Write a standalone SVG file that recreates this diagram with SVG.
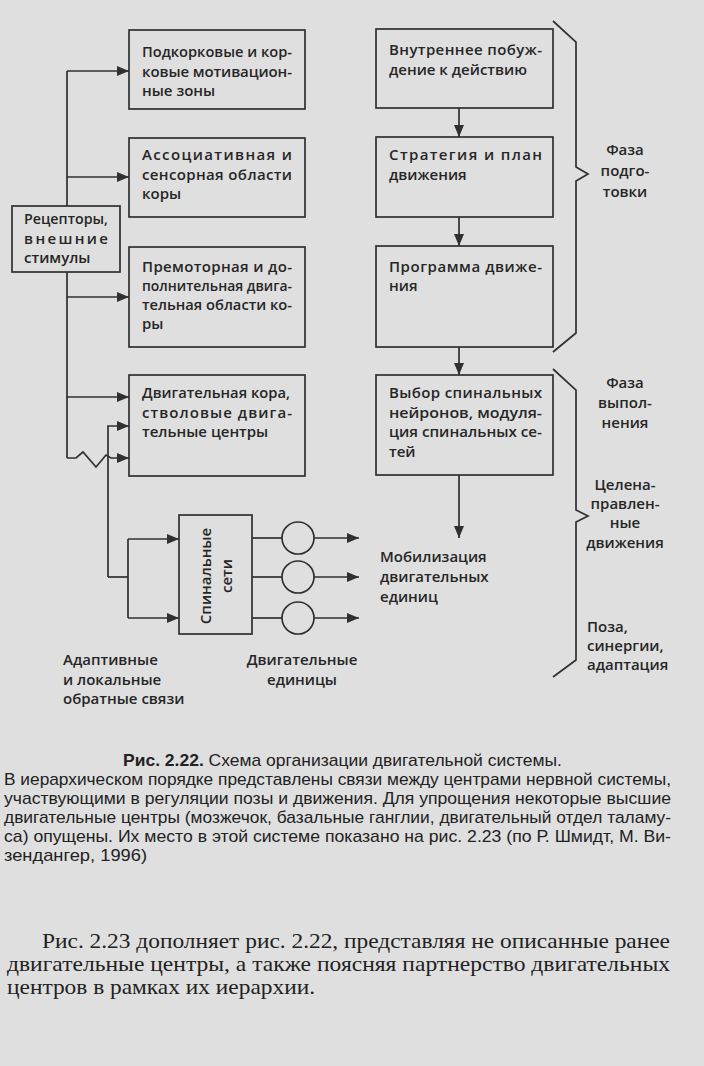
<svg xmlns="http://www.w3.org/2000/svg" width="704" height="1066" viewBox="0 0 704 1066">
<style>
.bx{fill:#dfdfdf;stroke:#303030;stroke-width:1.7}
.ln{fill:none;stroke:#303030;stroke-width:1.7}
.t{font-family:"Open Sans","Liberation Sans",sans-serif;font-size:15px;font-weight:600;fill:#262626}
.tc{font-family:"Open Sans","Liberation Sans",sans-serif;font-size:15px;font-weight:600;fill:#262626;text-anchor:middle}
.cap{font-family:"Liberation Sans",Arial,sans-serif;font-size:17px;fill:#222222}
.ser{font-family:"Liberation Serif","Times New Roman",serif;font-size:21px;fill:#222222}
</style>
<defs>
<marker id="ah" viewBox="0 0 12 10" refX="12" refY="5" markerWidth="12" markerHeight="10" markerUnits="userSpaceOnUse" orient="auto">
<path d="M0,0 L12,5 L0,10 z" fill="#303030"/>
</marker>
</defs>
<rect x="0" y="0" width="704" height="1066" fill="#dfdfdf"/>

<g id="connectors">
<path class="ln" d="M67,71 V458"/>
<path class="ln" d="M67,71 H129" marker-end="url(#ah)"/>
<path class="ln" d="M67,177 H129" marker-end="url(#ah)"/>
<path class="ln" d="M67,297 H129" marker-end="url(#ah)"/>
<path class="ln" d="M67,397 H129" marker-end="url(#ah)"/>
<path class="ln" d="M67,458 H76 L83,452 L96,467 L106,455 L111,458 H129" marker-end="url(#ah)"/>
<path class="ln" d="M108,577 V426 H129" marker-end="url(#ah)"/>
<path class="ln" d="M108,577 H128"/>
<path class="ln" d="M128,539 V618"/>
<path class="ln" d="M128,539 H179" marker-end="url(#ah)"/>
<path class="ln" d="M128,618 H179" marker-end="url(#ah)"/>
<path class="ln" d="M252,538 H282"/>
<path class="ln" d="M252,577 H282"/>
<path class="ln" d="M252,618 H282"/>
<path class="ln" d="M314,538 H359" marker-end="url(#ah)"/>
<path class="ln" d="M314,577 H359" marker-end="url(#ah)"/>
<path class="ln" d="M314,618 H359" marker-end="url(#ah)"/>
<path class="ln" d="M459,108 V137" marker-end="url(#ah)"/>
<path class="ln" d="M459,217 V246" marker-end="url(#ah)"/>
<path class="ln" d="M459,347 V375" marker-end="url(#ah)"/>
<path class="ln" d="M459,475 V538" marker-end="url(#ah)"/>
</g>

<g id="receptors">
<rect class="bx" x="12" y="206" width="108" height="66"/>
<text class="t" x="24" y="224" textLength="84" lengthAdjust="spacingAndGlyphs">Рецепторы,</text>
<text class="t" x="24" y="244" textLength="84" lengthAdjust="spacing">внешние</text>
<text class="t" x="24" y="263">стимулы</text>
</g>

<g id="motivation">
<rect class="bx" x="129" y="30" width="176" height="79"/>
<text class="t" x="142" y="57" textLength="150" lengthAdjust="spacingAndGlyphs">Подкорковые и кор-</text>
<text class="t" x="142" y="77" textLength="150" lengthAdjust="spacing">ковые мотивацион-</text>
<text class="t" x="142" y="96">ные зоны</text>
</g>

<g id="associative">
<rect class="bx" x="129" y="138" width="176" height="79"/>
<text class="t" x="142" y="160" textLength="150" lengthAdjust="spacing">Ассоциативная и</text>
<text class="t" x="142" y="180" textLength="150" lengthAdjust="spacing">сенсорная области</text>
<text class="t" x="142" y="199">коры</text>
</g>

<g id="premotor">
<rect class="bx" x="129" y="247" width="176" height="100"/>
<text class="t" x="142" y="272" textLength="150" lengthAdjust="spacing">Премоторная и до-</text>
<text class="t" x="142" y="291" textLength="150" lengthAdjust="spacingAndGlyphs">полнительная двига-</text>
<text class="t" x="142" y="310" textLength="150" lengthAdjust="spacingAndGlyphs">тельная области ко-</text>
<text class="t" x="142" y="329">ры</text>
</g>

<g id="motor-cortex">
<rect class="bx" x="129" y="375" width="176" height="101"/>
<text class="t" x="142" y="398" textLength="148" lengthAdjust="spacingAndGlyphs">Двигательная кора,</text>
<text class="t" x="142" y="418" textLength="150" lengthAdjust="spacing">стволовые двига-</text>
<text class="t" x="142" y="437">тельные центры</text>
</g>

<g id="spinal-nets">
<rect class="bx" x="179" y="515" width="73" height="119"/>
<text class="tc" transform="translate(211,576) rotate(-90)">Спинальные</text>
<text class="tc" transform="translate(232,576) rotate(-90)">сети</text>
</g>

<g id="motor-units">
<circle class="bx" cx="298" cy="538" r="16"/>
<circle class="bx" cx="298" cy="577" r="16"/>
<circle class="bx" cx="298" cy="618" r="16"/>
</g>

<g id="drive">
<rect class="bx" x="376" y="29" width="177" height="79"/>
<text class="t" x="389" y="55" textLength="153" lengthAdjust="spacing">Внутреннее побуж-</text>
<text class="t" x="389" y="75">дение к действию</text>
</g>

<g id="strategy">
<rect class="bx" x="376" y="137" width="177" height="80"/>
<text class="t" x="389" y="160" textLength="153" lengthAdjust="spacing">Стратегия и план</text>
<text class="t" x="389" y="180">движения</text>
</g>

<g id="program">
<rect class="bx" x="376" y="246" width="177" height="101"/>
<text class="t" x="389" y="272" textLength="153" lengthAdjust="spacing">Программа движе-</text>
<text class="t" x="389" y="291">ния</text>
</g>

<g id="selection">
<rect class="bx" x="376" y="375" width="177" height="100"/>
<text class="t" x="389" y="398" textLength="153" lengthAdjust="spacing">Выбор спинальных</text>
<text class="t" x="389" y="418" textLength="153" lengthAdjust="spacingAndGlyphs">нейронов, модуля-</text>
<text class="t" x="389" y="437" textLength="153" lengthAdjust="spacingAndGlyphs">ция спинальных се-</text>
<text class="t" x="389" y="457">тей</text>
</g>

<g id="mobilization">
<text class="t" x="380" y="562">Мобилизация</text>
<text class="t" x="380" y="582">двигательных</text>
<text class="t" x="380" y="602">единиц</text>
</g>

<g id="braces">
<polyline class="ln" points="553,21 576,42 576,167 588,174 576,181 576,333 553,352"/>
<polyline class="ln" points="553,369 576,390 576,510 588,516 576,522 576,660 553,677"/>
</g>

<g id="phase-labels">
<text class="tc" x="625" y="155">Фаза</text>
<text class="tc" x="625" y="176">подго-</text>
<text class="tc" x="625" y="197">товки</text>
<text class="tc" x="625" y="388">Фаза</text>
<text class="tc" x="625" y="408">выпол-</text>
<text class="tc" x="625" y="428">нения</text>
<text class="tc" x="625" y="490">Целена-</text>
<text class="tc" x="625" y="509">правлен-</text>
<text class="tc" x="625" y="528">ные</text>
<text class="tc" x="625" y="548">движения</text>
<text class="t" x="587" y="632">Поза,</text>
<text class="t" x="587" y="651">синергии,</text>
<text class="t" x="587" y="670">адаптация</text>
</g>

<g id="bottom-labels">
<text class="t" x="63" y="665">Адаптивные</text>
<text class="t" x="63" y="685">и локальные</text>
<text class="t" x="63" y="704">обратные связи</text>
<text class="tc" x="302" y="665">Двигательные</text>
<text class="tc" x="302" y="685">единицы</text>
</g>

<g id="caption">
<text class="cap" x="123" y="766" textLength="439" lengthAdjust="spacingAndGlyphs"><tspan font-weight="bold">Рис. 2.22.</tspan> Схема организации двигательной системы.</text>
<text class="cap" x="4" y="785" textLength="667" lengthAdjust="spacingAndGlyphs">В иерархическом порядке представлены связи между центрами нервной системы,</text>
<text class="cap" x="4" y="804" textLength="667" lengthAdjust="spacingAndGlyphs">участвующими в регуляции позы и движения. Для упрощения некоторые высшие</text>
<text class="cap" x="4" y="823" textLength="667" lengthAdjust="spacingAndGlyphs">двигательные центры (мозжечок, базальные ганглии, двигательный отдел таламу-</text>
<text class="cap" x="4" y="842" textLength="667" lengthAdjust="spacingAndGlyphs">са) опущены. Их место в этой системе показано на рис. 2.23 (по Р. Шмидт, М. Ви-</text>
<text class="cap" x="4" y="861" textLength="143" lengthAdjust="spacingAndGlyphs">зендангер, 1996)</text>
</g>

<g id="paragraph">
<text class="ser" x="42" y="948" textLength="628" lengthAdjust="spacingAndGlyphs">Рис. 2.23 дополняет рис. 2.22, представляя не описанные ранее</text>
<text class="ser" x="7" y="971" textLength="663" lengthAdjust="spacingAndGlyphs">двигательные центры, а также поясняя партнерство двигательных</text>
<text class="ser" x="7" y="994" textLength="308" lengthAdjust="spacingAndGlyphs">центров в рамках их иерархии.</text>
</g>
</svg>
